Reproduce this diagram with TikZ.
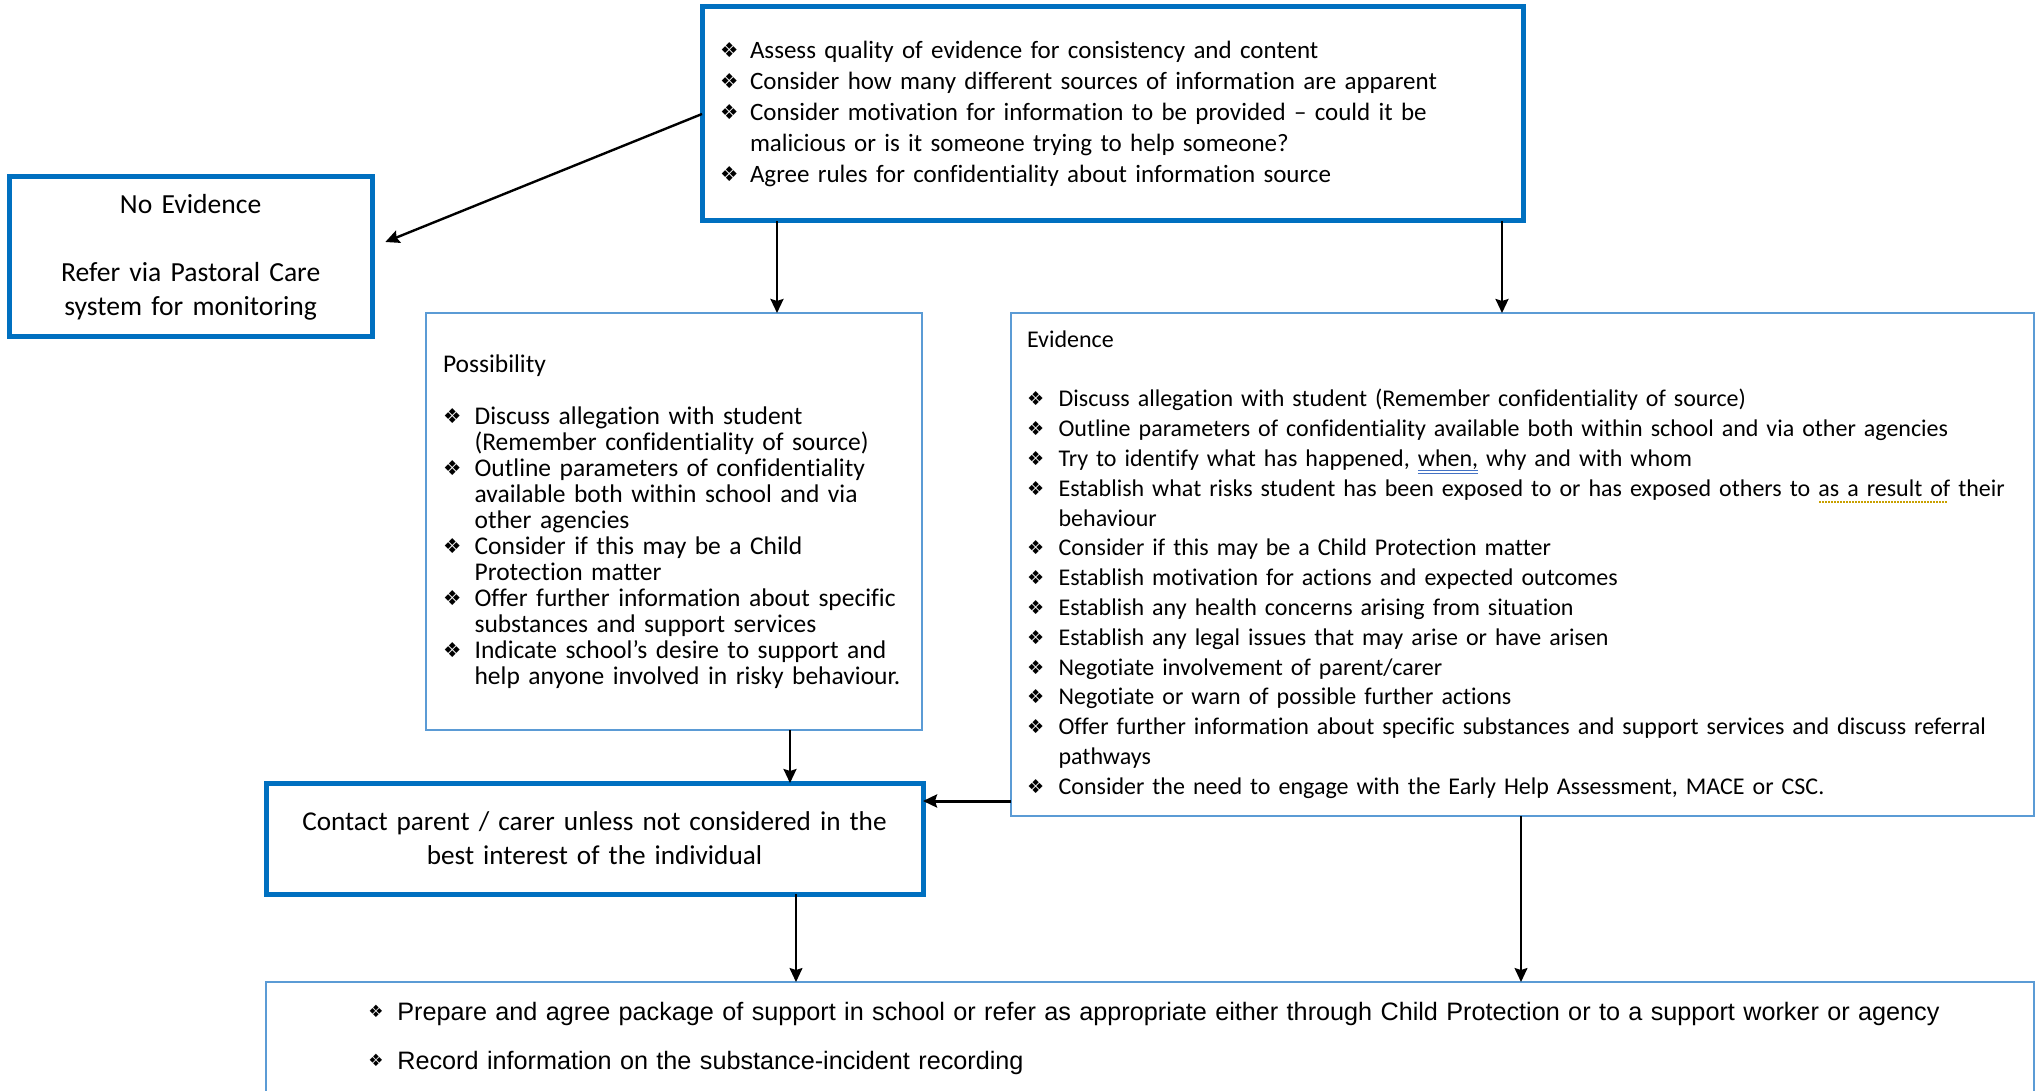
\documentclass[tikz,border=0pt]{standalone}
\usepackage{fontspec}
\setmainfont{Carlito}[Ligatures=NoCommon]
\newfontfamily\arialfont{Liberation Sans}
\newfontfamily\dingfont{DejaVu Sans}
\usetikzlibrary{arrows.meta}
\definecolor{boxblue}{HTML}{0070C0}
\definecolor{lineblue}{HTML}{5B9BD5}
\definecolor{gramblue}{HTML}{4472C4}
\definecolor{spellgold}{HTML}{C8A000}
\newsavebox\dbox
\newsavebox\ubox
\newcommand\dia[2][4pt]{\sbox\dbox{\resizebox*{!}{#2}{\dingfont\char"2756}}%
	\smash{\raisebox{\dimexpr#1-0.5\ht\dbox+0.5\dp\dbox\relax}{\usebox\dbox}}}
\newcommand\itm[3][7.5pt]{\hangindent=#2\hangafter=1\noindent\makebox[#2][l]{\dia{#1}}#3\par}
\newcommand\gramu[1]{\sbox\ubox{#1}\rlap{\color{gramblue}\rule[-2.4pt]{\wd\ubox}{0.5pt}\hspace{-\wd\ubox}\rule[-3.8pt]{\wd\ubox}{0.5pt}}\usebox\ubox}
\newcommand\spellu[1]{\sbox\ubox{#1}\rlap{\color{spellgold}\raisebox{-3.2pt}{\hbox to \wd\ubox{\leaders\hbox to 1.5pt{\hss\rule{0.75pt}{0.75pt}\hss}\hfill}}}\usebox\ubox}
\tikzset{
BOX/.style ={draw=boxblue, line width=2.5pt, rectangle, anchor=north west, outer sep=0pt},
THINBOX/.style ={draw=lineblue, line width=0.8pt, rectangle, anchor=north west, outer sep=0pt},
LISTBOX/.style ={inner xsep=1pt, align=left},
ARR/.style ={draw=black, line width=1.2pt, -{Stealth[length=7pt, width=6.5pt, inset=1pt]}},
ARRTHIN/.style ={ARR, line width=0.75pt},
}

\begin{document}
\begin{tikzpicture}
[x=0.5pt, y=-0.5pt]
	\useasboundingbox (0,0) rectangle (2035,1091);
	\clip (0,0) rectangle (2035,1091);
	\node[BOX, LISTBOX, minimum width=410.5pt, minimum height=107pt, text width=408.5pt,
		font=\fontsize{12.5}{15.5}\selectfont] (assess) at (702,7) {%
		\leftskip=8pt
		\itm{15pt}{Assess quality of evidence for consistency and content}
		\itm{15pt}{Consider how many different sources of information are apparent}
		\itm{15pt}{Consider motivation for information to be provided – could it be\newline malicious or is it someone trying to help someone?}
		\itm{15pt}{Agree rules for confidentiality about information source}};
	\node[BOX, minimum width=181pt, minimum height=80pt, text width=175pt, align=center,
		font=\fontsize{13.8}{17}\selectfont] (noev) at (9,177) {No Evidence\\[17pt]Refer via Pastoral Care\\system for monitoring};
	\node[THINBOX, LISTBOX, minimum width=248pt, minimum height=208.5pt, text width=246pt,
		font=\fontsize{12.75}{13}\selectfont] (poss) at (426,313) {%
		\leftskip=7.5pt \lineskiplimit=-5pt
		Possibility\par\mbox{}\par
		\itm{15.8pt}{Discuss allegation with student\newline (Remember confidentiality of source)}
		\itm{15.8pt}{Outline parameters of confidentiality\newline available both within school and via\newline other agencies}
		\itm{15.8pt}{Consider if this may be a Child\newline Protection matter}
		\itm{15.8pt}{Offer further information about specific\newline substances and support services}
		\itm{15.8pt}{Indicate school’s desire to support and\newline help anyone involved in risky behaviour.}};
	\node[THINBOX, LISTBOX, minimum width=511.5pt, minimum height=251.5pt, text width=509.5pt,
		font=\fontsize{12}{14.9}\selectfont] (evid) at (1011,313) {%
		\leftskip=7pt
		Evidence\par\mbox{}\par
		\itm[7pt]{15.8pt}{Discuss allegation with student (Remember confidentiality of source)}
		\itm[7pt]{15.8pt}{Outline parameters of confidentiality available both within school and via other agencies}
		\itm[7pt]{15.8pt}{Try to identify what has happened, \gramu{when,} why and with whom}
		\itm[7pt]{15.8pt}{Establish what risks student has been exposed to or has exposed others to \spellu{as a result of} their\newline behaviour}
		\itm[7pt]{15.8pt}{Consider if this may be a Child Protection matter}
		\itm[7pt]{15.8pt}{Establish motivation for actions and expected outcomes}
		\itm[7pt]{15.8pt}{Establish any health concerns arising from situation}
		\itm[7pt]{15.8pt}{Establish any legal issues that may arise or have arisen}
		\itm[7pt]{15.8pt}{Negotiate involvement of parent/carer}
		\itm[7pt]{15.8pt}{Negotiate or warn of possible further actions}
		\itm[7pt]{15.8pt}{Offer further information about specific substances and support services and discuss referral\newline pathways}
		\itm[7pt]{15.8pt}{Consider the need to engage with the Early Help Assessment, MACE or CSC.}};
	\node[BOX, minimum width=328.5pt, minimum height=55.5pt, text width=320pt, align=center,
		font=\fontsize{13.6}{17}\selectfont] (contact) at (266,783) {Contact parent / carer unless not considered in the\\best interest of the individual};
	\node[THINBOX, minimum width=884pt, minimum height=55.5pt] (todo) at (266,982) {};
	\node[anchor=west, inner sep=0pt, text width=820pt, align=left, font=\arialfont\fontsize{12.6}{24.5}\selectfont]
		(todotxt) at ([xshift=51pt, yshift=-0.3pt]todo.west) {%
		\makebox[14.5pt][l]{\dia[4.2pt]{6.2pt}}Prepare and agree package of support in school or refer as appropriate either through Child Protection or to a support worker or agency\\
		\makebox[14.5pt][l]{\dia[4.2pt]{6.2pt}}Record information on the substance-incident recording};
	\coordinate (noevtip) at ([shift={(13,-15)}]noev.east);
	\draw[ARR] (assess.west) -- (noevtip);
	\draw[ARR] (assess.south -| 777,0) -- (poss.north -| 777,0);
	\draw[ARR] (assess.south -| 1502,0) -- (evid.north -| 1502,0);
	\draw[ARR] (poss.south -| 790,0) -- (contact.north -| 790,0);
	\draw[ARR, line width=1.5pt] (evid.west |- 0,801) -- (contact.east |- 0,801);
	\draw[ARRTHIN] (contact.south -| 796,0) -- (todo.north -| 796,0);
	\draw[ARRTHIN] (evid.south -| 1521,0) -- (todo.north -| 1521,0);
\end{tikzpicture}
\end{document}
